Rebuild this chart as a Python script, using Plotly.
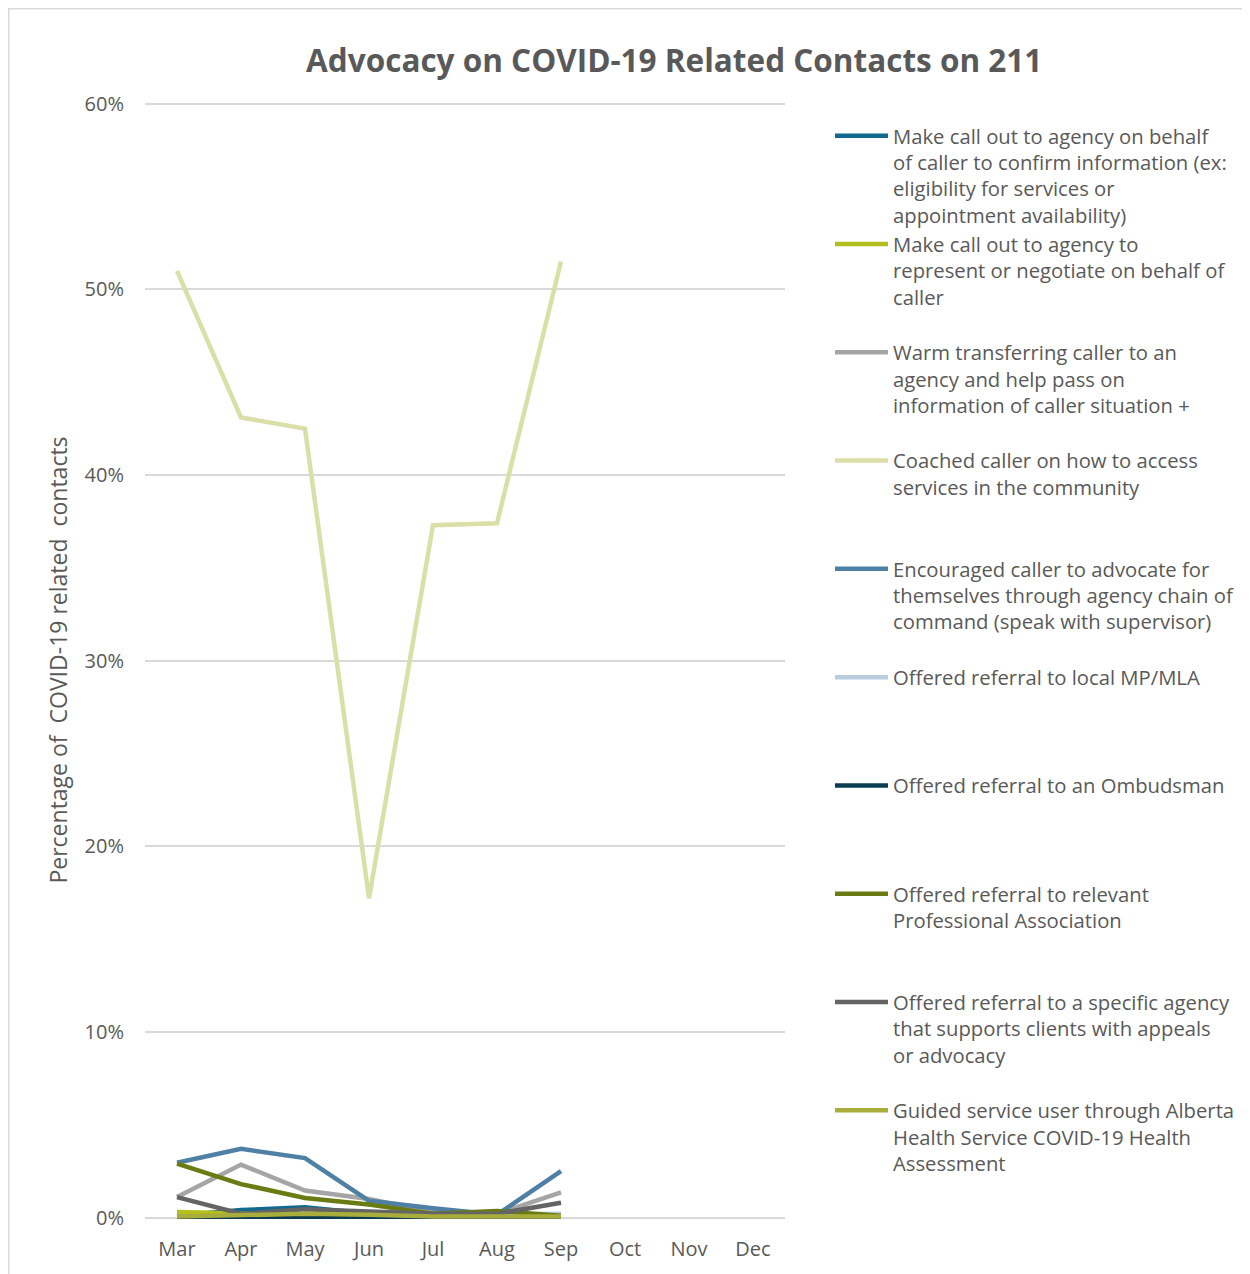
import plotly.graph_objects as go

months = ["Mar", "Apr", "May", "Jun", "Jul", "Aug", "Sep", "Oct", "Nov", "Dec"]

names = [
    "Make call out to agency on behalf<br>of caller to confirm information (ex:<br>eligibility for services or<br>appointment availability)",
    "Make call out to agency to<br>represent or negotiate on behalf of<br>caller",
    "Warm transferring caller to an<br>agency and help pass on<br>information of caller situation +",
    "Coached caller on how to access<br>services in the community",
    "Encouraged caller to advocate for<br>themselves through agency chain of<br>command (speak with supervisor)",
    "Offered referral to local MP/MLA",
    "Offered referral to an Ombudsman",
    "Offered referral to relevant<br>Professional Association",
    "Offered referral to a specific agency<br>that supports clients with appeals<br>or advocacy",
    "Guided service user through Alberta<br>Health Service COVID-19 Health<br>Assessment",
]

call_out_confirm = [0.10, 0.40, 0.55, 0.20, 0.08, 0.08, 0.05, None, None, None]
call_out_represent = [0.30, 0.20, 0.15, 0.10, 0.08, 0.08, 0.05, None, None, None]
warm_transfer = [1.10, 2.85, 1.45, 1.00, 0.30, 0.20, 1.35, None, None, None]
coached = [51.0, 43.1, 42.5, 17.2, 37.3, 37.4, 51.5, None, None, None]
encouraged = [2.95, 3.70, 3.20, 0.90, 0.50, 0.15, 2.50, None, None, None]
mp_mla = [0.05, 0.05, 0.10, 0.10, 0.10, 0.15, 0.20, None, None, None]
ombudsman = [0.02, 0.02, 0.03, 0.02, 0.02, 0.02, 0.02, None, None, None]
prof_assoc = [2.90, 1.80, 1.05, 0.70, 0.20, 0.35, 0.10, None, None, None]
specific_agency = [1.10, 0.20, 0.45, 0.30, 0.20, 0.20, 0.80, None, None, None]
guided_ahs = [0.05, 0.10, 0.20, 0.15, 0.05, 0.05, 0.05, None, None, None]

y_tick_values = [0, 10, 20, 30, 40, 50, 60]
y_tick_labels = ["0%", "10%", "20%", "30%", "40%", "50%", "60%"]

series = [call_out_confirm, call_out_represent, warm_transfer, coached, encouraged,
          mp_mla, ombudsman, prof_assoc, specific_agency, guided_ahs]
colors = ["#10698e", "#b2bf1e", "#a5a5a5", "#dadfa8", "#4e7fa4",
          "#b9cde0", "#0b3c50", "#6b7b14", "#646464", "#a8ad3b"]

def pad(name, lines=4):
    n = name.count("<br>") + 1
    return name + "<br> " * (lines - n)

fig = go.Figure()
for nm, vals, col in zip(names, series, colors):
    fig.add_trace(go.Scatter(
        x=months, y=vals, name=pad(nm), mode="lines",
        line=dict(color=col, width=4.5), connectgaps=False,
    ))

font_family = "'Open Sans', sans-serif"
L, T, PW, PH = 137, 93, 640, 1118
fig.update_layout(
    width=1250, height=1274,
    margin=dict(l=L, r=1250 - L - PW, t=T, b=1274 - T - PH),
    paper_bgcolor="white", plot_bgcolor="white",
    font=dict(family=font_family, color="#595959", size=20),
    title=dict(text="<b>Advocacy on COVID-19 Related Contacts on 211</b>",
               x=0.533, xanchor="center", y=1 - 53 / 1274, yanchor="middle",
               font=dict(size=31.5, color="#595959", family=font_family)),
    xaxis=dict(categoryorder="array", categoryarray=months, range=[-0.5, 9.5],
               showgrid=False, showline=False, zeroline=False, ticks="",
               ticklabelstandoff=16,
               tickfont=dict(size=20, color="#595959")),
    yaxis=dict(range=[-0.08, 60.15], tickvals=y_tick_values, ticktext=y_tick_labels,
               showgrid=True, gridcolor="#d9d9d9", gridwidth=1.5, zeroline=False,
               showline=False, ticks="", ticklabelstandoff=20,
               tickfont=dict(size=20, color="#595959"),
               title=dict(text="Percentage of  COVID-19 related  contacts",
                          font=dict(size=23, color="#595959"), standoff=10)),
    legend=dict(x=(822 - L) / PW, xanchor="left", y=1 - (108 - T) / PH, yanchor="top",
                valign="top", itemwidth=53,
                font=dict(size=20.25, color="#595959"), bgcolor="rgba(0,0,0,0)",
                traceorder="normal"),
    shapes=[dict(type="rect", xref="paper", yref="paper",
                 x0=(0.8 - L) / PW, x1=(1300 - L) / PW,
                 y0=(T + PH - 1300) / PH, y1=(T + PH - 0.8) / PH,
                 line=dict(color="#d9d9d9", width=1.5), fillcolor="rgba(0,0,0,0)",
                 layer="below")],
)

fig.write_html("out.html")
